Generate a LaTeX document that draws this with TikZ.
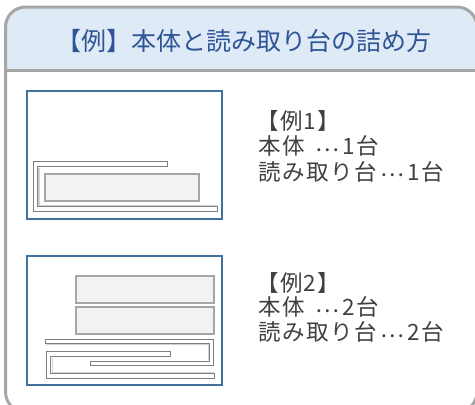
\documentclass[tikz,border=0pt]{standalone}
\usepackage{fontspec}
\setmainfont{Noto Sans CJK JP}
\newfontfamily\jp{Noto Sans CJK JP}
\newfontfamily\jpls[LetterSpace=6]{Noto Sans CJK JP}
\newcommand{\jdots}{\hspace{0.18em}\raisebox{0.15em}{…}\hspace{0.14em}}
\definecolor{frameg}{HTML}{A6A6A6}
\definecolor{headbg}{HTML}{DEEAF6}
\definecolor{titleblue}{HTML}{2F5597}
\definecolor{boxblue}{HTML}{41719C}
\definecolor{txtg}{HTML}{404040}
\definecolor{standg}{HTML}{7F7F7F}
\definecolor{bodyfill}{HTML}{F2F2F2}
\tikzset{
  exbox/.style={draw=boxblue, line width=2pt, fill=white},
  unitbox/.style={draw=frameg, line width=2pt, fill=bodyfill},
  stand/.style={draw=standg, line width=1pt, fill=white},
  standin/.style={draw=black!18, line width=1.4pt},
  lbl/.style={anchor=base west, inner sep=0pt, text=txtg, font=\jpls\fontsize{22.5}{25}\selectfont},
}
\begin{document}
\begin{tikzpicture}[x=1pt,y=-1pt]
\useasboundingbox (0,0) rectangle (475,405);
\clip (0,0) rectangle (475,405);
% outer frame
\begin{scope}
\clip[rounded corners=20pt] (5.5,7) rectangle (477,412);
\fill[headbg] (0,0) rectangle (480,70);
\end{scope}
\draw[frameg, line width=3pt, rounded corners=20pt] (5.5,7) rectangle (477,412);
\draw[frameg, line width=3pt] (5.5,70.5) -- (477,70.5);
\node[inner sep=0pt, anchor=base, text=titleblue, font=\jp\fontsize{25}{28}\selectfont] (title) at (244,50) {【例】本体と読み取り台の詰め方};

% example 1
\draw[exbox] (27,90.5) rectangle (222,219);
\draw[stand] (33.3,161.7) -- (167.7,161.7) -- (167.7,166.7) -- (37.3,166.7) -- (37.3,206.7) -- (217.7,206.7) -- (217.7,211.7) -- (33.3,211.7) -- cycle;
\draw[standin] (38.8,167.5) -- (38.8,205.5) -- (217,205.5);
\draw[unitbox] (44.7,174.3) rectangle (199,201);

\node[lbl] (e1a) at (256,129) {【例1】};
\node[lbl] (e1b) at (258.5,154.5) {本体 \jdots 1台};
\node[lbl] (e1c) at (258.5,180) {読み取り台\jdots 1台};

% example 2
\draw[exbox] (27,256) rectangle (222,385);
\draw[unitbox] (75.7,276) rectangle (214.3,302.7);
\draw[unitbox] (75.7,307.3) rectangle (214.3,334);
\draw[stand] (45,339) -- (213.3,339) -- (213.3,365.7) -- (90,365.7) -- (90,361) -- (209.3,361) -- (209.3,343.3) -- (45,343.3) -- cycle;
\draw[standin] (46,344.2) -- (208.4,344.2) -- (208.4,360.2);
\draw[stand] (46,351.7) -- (170,351.7) -- (170,356.7) -- (50.7,356.7) -- (50.7,373.3) -- (214.3,373.3) -- (214.3,378.3) -- (46,378.3) -- cycle;
\draw[standin] (52.2,357.5) -- (52.2,372.3) -- (213.5,372.3);

\node[lbl] (e2a) at (256,291) {【例2】};
\node[lbl] (e2b) at (258.5,315.5) {本体 \jdots 2台};
\node[lbl] (e2c) at (258.5,340.5) {読み取り台\jdots 2台};
\end{tikzpicture}
\end{document}
